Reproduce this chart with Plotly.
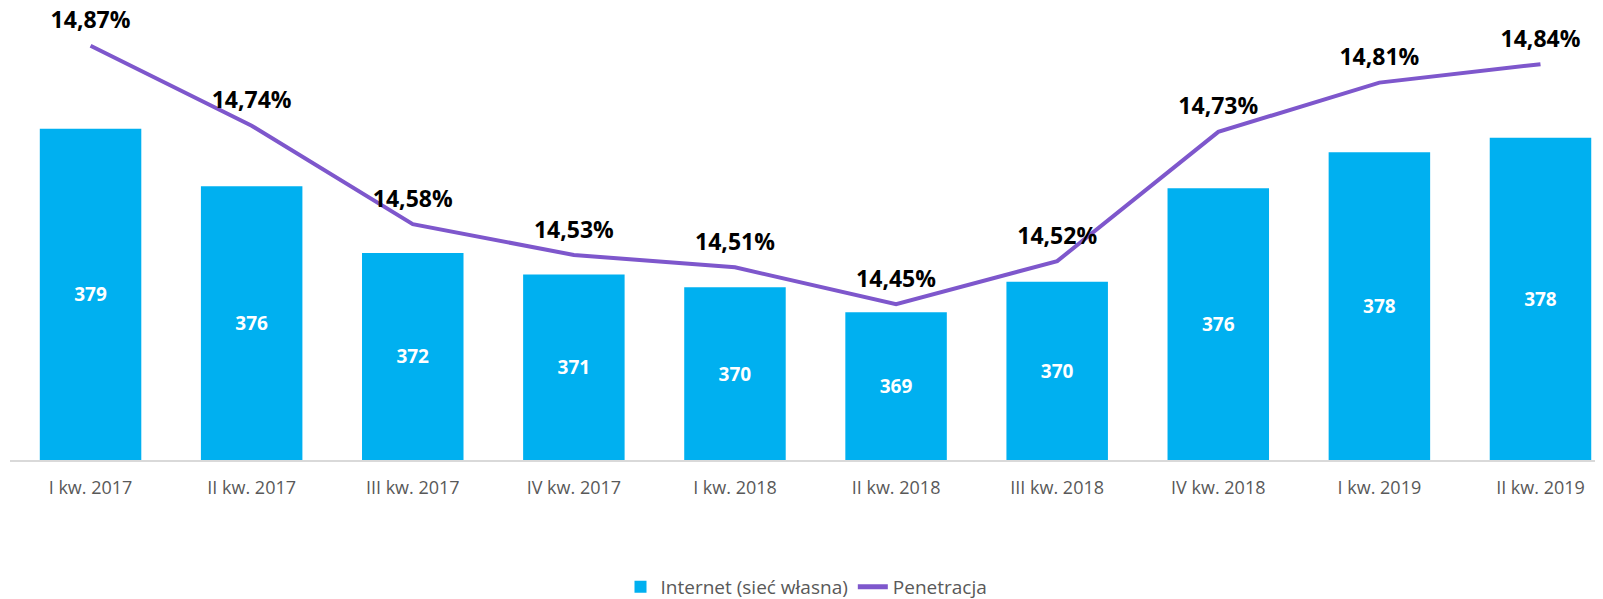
import plotly.graph_objects as go

categories = ["I kw. 2017", "II kw. 2017", "III kw. 2017", "IV kw. 2017", "I kw. 2018",
              "II kw. 2018", "III kw. 2018", "IV kw. 2018", "I kw. 2019", "II kw. 2019"]
internet = [378.9, 375.7, 372.0, 370.8, 370.1, 368.7, 370.4, 375.6, 377.6, 378.4]
penetracja = [14.87, 14.74, 14.58, 14.53, 14.51, 14.45, 14.52, 14.73, 14.81, 14.84]

FONT = "Open Sans"
BAR_COLOR = "#00B0F0"
LINE_COLOR = "#7E57CC"
GRAY = "#595959"

Y_MIN, Y_MAX = 360.5, 384.94
Y2_MIN, Y2_MAX = 14.197, 14.9117

fig = go.Figure()
fig.add_trace(go.Bar(
    x=categories, y=[v - Y_MIN for v in internet], base=Y_MIN, customdata=internet,
    name="Internet (sieć własna)",
    marker=dict(color=BAR_COLOR, line=dict(width=0)),
    texttemplate="%{customdata:.0f}", textposition="inside", insidetextanchor="middle",
    textfont=dict(family=FONT, size=19, color="white", weight="bold"),
    textangle=0, yaxis="y",
    hovertemplate="%{x}: %{customdata}<extra></extra>",
))
fig.add_trace(go.Scatter(
    x=categories, y=penetracja, name="Penetracja", mode="lines+markers+text",
    line=dict(color=LINE_COLOR, width=4),
    marker=dict(size=17, color="rgba(0,0,0,0)"),
    texttemplate="%{y:.2f}%", textposition="top center",
    textfont=dict(family=FONT, size=23, color="#000000", weight="bold"),
    cliponaxis=False, yaxis="y2",
))

fig.update_layout(
    width=1595, height=599,
    margin=dict(l=2, r=0, t=12, b=147),
    paper_bgcolor="white", plot_bgcolor="white",
    separators=", ",
    bargap=0.37,
    font=dict(family=FONT, color=GRAY),
    xaxis=dict(type="category", range=[-0.5, 9.388], showline=True, linecolor="#D9D9D9",
               linewidth=2, showgrid=False, ticks="outside", ticklen=10,
               tickcolor="rgba(0,0,0,0)", zeroline=False,
               tickfont=dict(family=FONT, size=18, color=GRAY)),
    yaxis=dict(range=[Y_MIN, Y_MAX], visible=False, showgrid=False, zeroline=False),
    yaxis2=dict(range=[Y2_MIN, Y2_MAX], overlaying="y", visible=False,
                showgrid=False, zeroline=False),
    showlegend=True,
    legend=dict(orientation="h", x=0.5, xanchor="center", y=-0.2886, yanchor="middle",
                font=dict(family=FONT, size=19, color=GRAY), traceorder="normal",
                itemsizing="constant"),
)

fig.write_html("out.html")
